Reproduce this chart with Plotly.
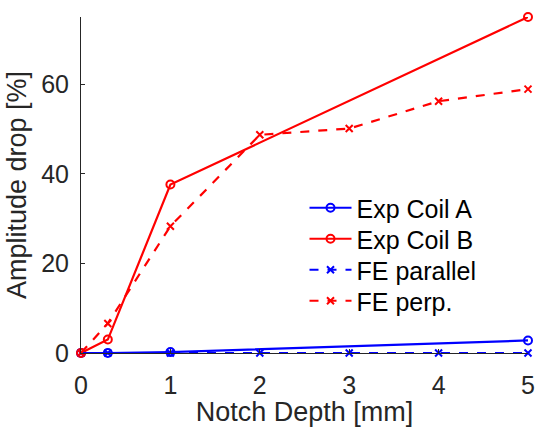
import plotly.graph_objects as go

x_coilA = [0, 0.3, 1, 5]
y_coilA = [0, 0, 0.2, 2.8]
x_coilB = [0, 0.3, 1, 5]
y_coilB = [0, 3.0, 37.6, 75]
x_fe = [0, 0.3, 1, 2, 3, 4, 5]
y_fe_par = [0, 0, 0, 0, 0, 0, 0]
y_fe_perp = [0, 6.6, 28.3, 48.7, 50.1, 56.2, 58.9]

blue = "#0000FF"
red = "#FF0000"

fig = go.Figure()
fig.add_trace(go.Scatter(x=x_coilA, y=y_coilA, name="Exp Coil A", mode="lines+markers",
                         line=dict(color=blue, width=2.2), legend="legend",
                         marker=dict(symbol="circle-open", size=8, color=blue, line=dict(width=2)),
                         cliponaxis=False))
fig.add_trace(go.Scatter(x=x_coilB, y=y_coilB, name="Exp Coil B", mode="lines+markers",
                         line=dict(color=red, width=2.2), legend="legend2",
                         marker=dict(symbol="circle-open", size=8, color=red, line=dict(width=2)),
                         cliponaxis=False))
fig.add_trace(go.Scatter(x=x_fe, y=y_fe_par, name="FE parallel", mode="lines+markers",
                         line=dict(color=blue, width=2.2, dash="dash"), legend="legend3",
                         marker=dict(symbol="x-thin-open", size=7, color=blue, line=dict(width=2, color=blue)),
                         cliponaxis=False))
fig.add_trace(go.Scatter(x=x_fe, y=y_fe_perp, name="FE perp.", mode="lines+markers",
                         line=dict(color=red, width=2.2, dash="dash"), legend="legend4",
                         marker=dict(symbol="x-thin-open", size=7, color=red, line=dict(width=2, color=red)),
                         cliponaxis=False))

font_family = "Liberation Sans, Arial, sans-serif"

def leg(k):
    return dict(x=0.50, y=0.50 - k * 31 / 336, xanchor="left", yanchor="top",
                bgcolor="rgba(0,0,0,0)", font=dict(size=25, color="black"), itemwidth=42)

fig.update_layout(
    width=541, height=427,
    margin=dict(l=81, r=6, t=17, b=74),
    paper_bgcolor="white", plot_bgcolor="white",
    font=dict(family=font_family, size=25, color="#262626"),
    showlegend=True,
    legend=leg(0), legend2=leg(1), legend3=leg(2), legend4=leg(3),
    xaxis=dict(range=[0, 5], tickvals=[0, 1, 2, 3, 4, 5], showgrid=False, zeroline=False,
               showline=True, linecolor="#262626", linewidth=1, ticks="inside", ticklen=4,
               tickcolor="#262626", ticklabelstandoff=10, tickfont=dict(size=25),
               ticklabeloverflow="allow",
               title=dict(text="Notch Depth [mm]", font=dict(size=27, color="#262626"), standoff=2)),
    yaxis=dict(range=[0, 75], tickvals=[0, 20, 40, 60], showgrid=False, zeroline=False,
               showline=True, linecolor="#262626", linewidth=1, ticks="inside", ticklen=4,
               tickcolor="#262626", ticklabelstandoff=6, tickfont=dict(size=25),
               title=dict(text="Amplitude drop [%]", font=dict(size=27, color="#262626"), standoff=6)),
)
fig.write_html("out.html")
